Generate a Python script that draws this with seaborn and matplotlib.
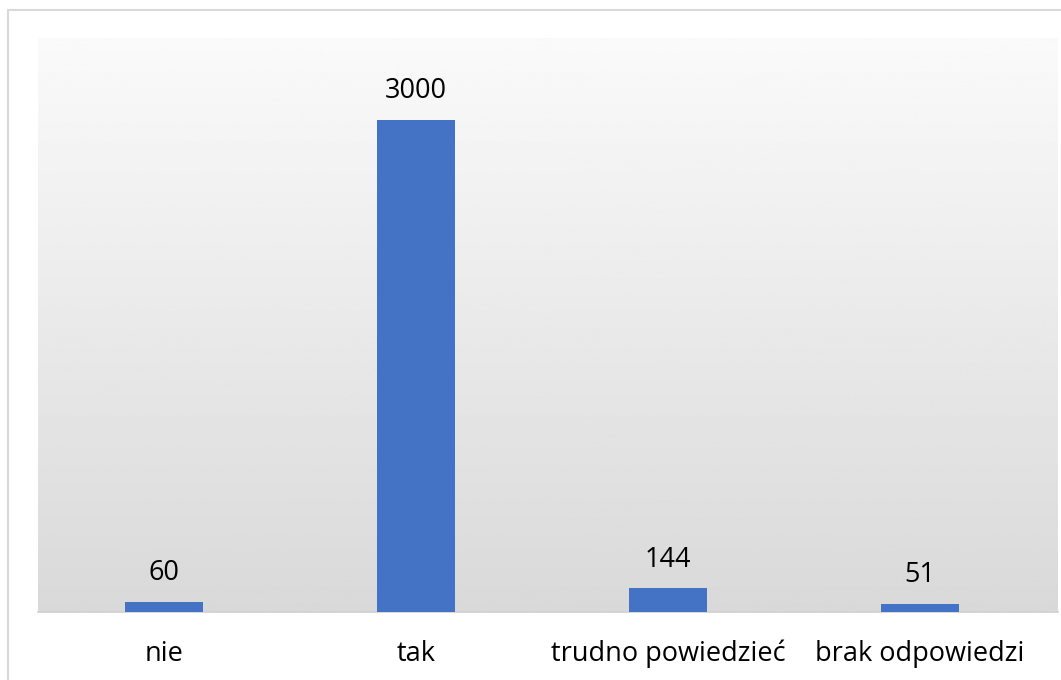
import matplotlib
matplotlib.use("Agg")
import matplotlib.pyplot as plt
import seaborn as sns
import numpy as np
import pandas as pd
from matplotlib.patches import Rectangle

categories = ["nie", "tak", "trudno powiedzieć", "brak odpowiedzi"]
values = [60, 3000, 144, 51]

sns.set_style("white")
plt.rcParams['font.family'] = ['Open Sans', 'DejaVu Sans']

fig = plt.figure(figsize=(10.61, 6.8), dpi=100)
# outer chart border
fig.patches.append(Rectangle((8 / 1061, -0.01), 1.0, 1 - 10 / 680 + 0.01,
                             transform=fig.transFigure, fill=False,
                             edgecolor="#d9d9d9", linewidth=1.5))
ax = fig.add_axes([38 / 1061, 1 - 612 / 680, (1058 - 38) / 1061, (612 - 38) / 680])

df = pd.DataFrame({"cat": categories, "val": values})
sns.barplot(data=df, x="cat", y="val", color="#4472C4", width=0.313,
            saturation=1, linewidth=0, ax=ax, zorder=3)

xmax = -0.5 + 1020 / 252
ax.set_ylim(0, 3500)
ax.set_xlim(-0.5, xmax)

# vertical gradient background
grad = np.linspace(0.85, 0.98, 256).reshape(-1, 1)
ax.imshow(grad, extent=[-0.5, xmax, 0, 3500], origin="lower",
          aspect="auto", cmap="gray", vmin=0, vmax=1, zorder=0)

for i, v in enumerate(values):
    ax.text(i, v + 90, str(v), ha="center", va="bottom", fontsize=19.5, color="#000000")

ax.set_xlabel("")
ax.set_ylabel("")
ax.set_yticks([])
ax.tick_params(axis="x", length=0, pad=20, labelsize=19.5, colors="#000000")
for s in ["top", "left", "right"]:
    ax.spines[s].set_visible(False)
ax.spines["bottom"].set_color("#d0d0d0")
ax.spines["bottom"].set_linewidth(1.2)

fig.savefig("out.png", dpi=100)
